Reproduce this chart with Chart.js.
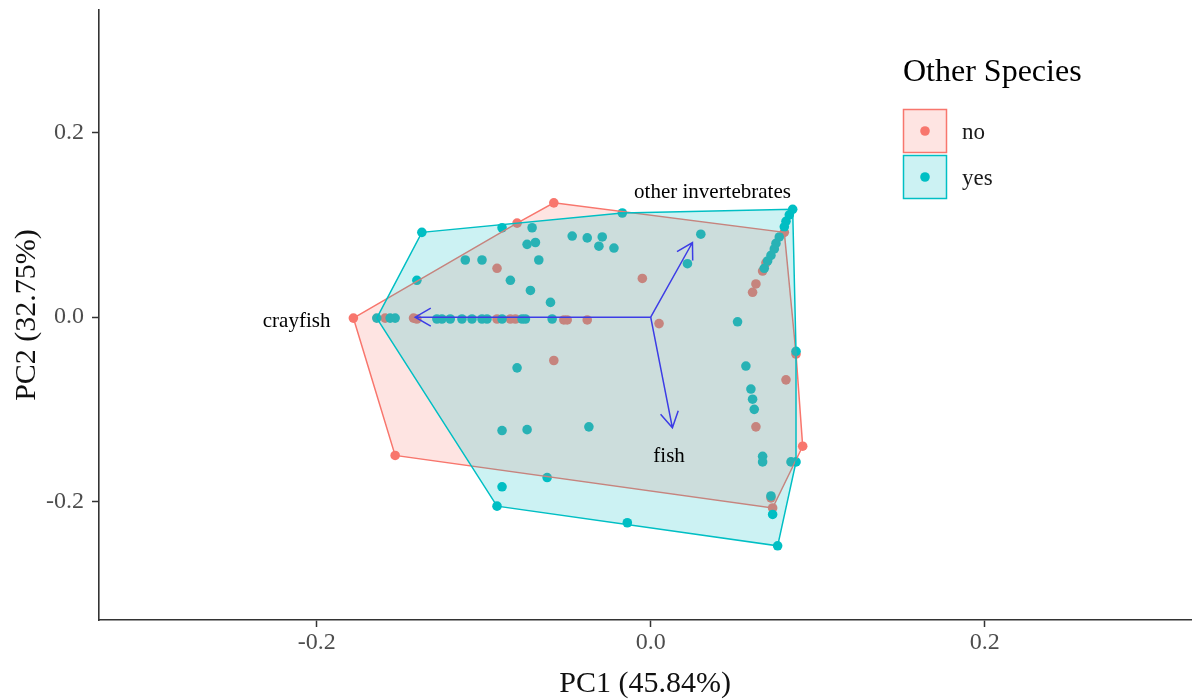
<!DOCTYPE html>
<html>
<head>
<meta charset="utf-8">
<script src="https://cdn.jsdelivr.net/npm/chart.js@4.4.1/dist/chart.umd.min.js"></script>
<style>
  html, body { margin: 0; padding: 0; background: #fff; }
</style>
</head>
<body>
<canvas id="pca" width="1196" height="700"></canvas>
<script>
// PCA scores, group "no"
const noX = [-0.178, -0.153, -0.058, -0.080, -0.092, -0.005, -0.159, -0.142, -0.140, -0.092, -0.084, -0.081, -0.052, -0.050,
             -0.038, 0.005, -0.058, 0.063, 0.081, 0.087, 0.091, 0.072, 0.073, 0.080, 0.069, 0.067, 0.063, 0.061];
const noY = [-0.001, -0.150, 0.124, 0.102, 0.053, 0.042, -0.001, -0.001, -0.002, -0.002, -0.002, -0.002, -0.003, -0.003,
             -0.003, -0.007, -0.047, -0.119, -0.068, -0.040, -0.140, -0.196, -0.207, 0.092, 0.059, 0.050, 0.036, 0.027];

// PCA scores, group "yes"
const yesX = [-0.164, -0.156, -0.153, -0.137, -0.140, -0.089, -0.071, -0.074, -0.069, -0.047, -0.038, -0.029, -0.031, -0.022,
              -0.111, -0.101, -0.067, -0.084, -0.072, -0.060, -0.017, 0.030, 0.022, 0.052, 0.057, 0.060, 0.061, 0.062,
              0.067, 0.067, 0.072, 0.073, 0.076, -0.014, -0.092, -0.089, -0.062, -0.080, -0.089, -0.074, -0.037, 0.084,
              0.087, -0.128, -0.125, -0.120, -0.113, -0.107, -0.101, -0.098, -0.089, -0.077, -0.075, -0.059, 0.085,
              0.083, 0.081, 0.080, 0.077, 0.075, 0.074, 0.072, 0.070, 0.068, 0.087];
const yesY = [-0.001, -0.001, -0.001, 0.092, 0.040, 0.097, 0.097, 0.079, 0.081, 0.088, 0.086, 0.087, 0.077, 0.075,
              0.062, 0.062, 0.062, 0.040, 0.029, 0.016, 0.113, 0.090, 0.058, -0.005, -0.053, -0.078, -0.089, -0.100,
              -0.151, -0.157, -0.194, -0.214, -0.248, -0.223, -0.205, -0.184, -0.174, -0.055, -0.123, -0.122, -0.119, -0.157,
              -0.157, -0.002, -0.002, -0.002, -0.002, -0.002, -0.002, -0.002, -0.002, -0.002, -0.002, -0.002, 0.117,
              0.111, 0.104, 0.098, 0.087, 0.080, 0.074, 0.067, 0.061, 0.053, -0.037];

// loadings (arrows) and where their labels sit
const loadNames = ['crayfish', 'other invertebrates', 'fish'];
const loadX = [-0.141, 0.025, 0.013];
const loadY = [0.000, 0.081, -0.120];
const labelX = [-0.212, 0.037, 0.011];
const labelY = [-0.005, 0.135, -0.151];

const xTicks = [-0.2, 0, 0.2];
const yTicks = [-0.2, 0, 0.2];
const groups = ['no', 'yes'];

const red = '#F8766D';
const teal = '#00BFC4';
const redFill = 'rgba(248,118,109,0.2)';
const tealFill = 'rgba(0,191,196,0.2)';
const serif = '"Liberation Serif", "Times New Roman", serif';

const toPts = (xs, ys) => xs.map((x, i) => ({x: x, y: ys[i]}));

// convex hull (monotone chain), closed
function hull(pts) {
  const p = pts.slice().sort((a, b) => a.x - b.x || a.y - b.y);
  const cross = (o, a, b) => (a.x - o.x) * (b.y - o.y) - (a.y - o.y) * (b.x - o.x);
  const lower = [], upper = [];
  for (const q of p) {
    while (lower.length >= 2 && cross(lower[lower.length - 2], lower[lower.length - 1], q) <= 0) lower.pop();
    lower.push(q);
  }
  for (const q of p.slice().reverse()) {
    while (upper.length >= 2 && cross(upper[upper.length - 2], upper[upper.length - 1], q) <= 0) upper.pop();
    upper.push(q);
  }
  upper.pop();
  lower.pop();
  const h = lower.concat(upper);
  h.push(h[0]);
  return h;
}

const noPts = toPts(noX, noY);
const yesPts = toPts(yesX, yesY);

// arrows + labels
const biplot = {
  id: 'biplot',
  afterDatasetsDraw(chart) {
    const {ctx, scales: {x, y}} = chart;
    const ox = x.getPixelForValue(0), oy = y.getPixelForValue(0);
    ctx.save();
    ctx.strokeStyle = '#3c3ce6';
    ctx.lineWidth = 1.5;
    loadNames.forEach((name, i) => {
      const tx = x.getPixelForValue(loadX[i]), ty = y.getPixelForValue(loadY[i]);
      const a = Math.atan2(ty - oy, tx - ox);
      const len = 18, spread = Math.PI / 6;
      ctx.beginPath();
      ctx.moveTo(ox, oy);
      ctx.lineTo(tx, ty);
      ctx.moveTo(tx - len * Math.cos(a - spread), ty - len * Math.sin(a - spread));
      ctx.lineTo(tx, ty);
      ctx.lineTo(tx - len * Math.cos(a + spread), ty - len * Math.sin(a + spread));
      ctx.stroke();
    });
    ctx.fillStyle = '#000';
    ctx.font = '21px ' + serif;
    ctx.textAlign = 'center';
    ctx.textBaseline = 'middle';
    loadNames.forEach((name, i) => {
      ctx.fillText(name, x.getPixelForValue(labelX[i]), y.getPixelForValue(labelY[i]));
    });
    ctx.restore();
  }
};

// legend on the right
const speciesLegend = {
  id: 'speciesLegend',
  afterDraw(chart) {
    const ctx = chart.ctx;
    const cols = [red, teal], fills = [redFill, tealFill];
    ctx.save();
    ctx.fillStyle = '#000';
    ctx.font = '32px ' + serif;
    ctx.textBaseline = 'middle';
    ctx.fillText('Other Species', 903, 73);
    groups.forEach((g, i) => {
      const top = 109 + i * 46;
      ctx.fillStyle = '#fff';
      ctx.fillRect(903, top, 44, 44);
      ctx.fillStyle = fills[i];
      ctx.fillRect(903, top, 44, 44);
      ctx.strokeStyle = cols[i];
      ctx.lineWidth = 1.5;
      ctx.strokeRect(903.5, top + 0.5, 43, 43);
      ctx.beginPath();
      ctx.arc(925, top + 22, 4.8, 0, Math.PI * 2);
      ctx.fillStyle = cols[i];
      ctx.fill();
      ctx.fillStyle = '#1a1a1a';
      ctx.font = '23px ' + serif;
      ctx.fillText(g, 962, top + 24);
    });
    ctx.restore();
  }
};

new Chart(document.getElementById('pca'), {
  type: 'scatter',
  data: {
    datasets: [
      {
        type: 'line', label: 'yes hull', data: hull(yesPts),
        borderColor: teal, backgroundColor: tealFill, borderWidth: 1.5,
        pointRadius: 0, fill: 'shape', tension: 0
      },
      {
        type: 'line', label: 'no hull', data: hull(noPts),
        borderColor: red, backgroundColor: redFill, borderWidth: 1.5,
        pointRadius: 0, fill: 'shape', tension: 0
      },
      {
        label: 'yes', data: yesPts,
        backgroundColor: teal, borderWidth: 0, pointRadius: 4.8
      },
      {
        label: 'no', data: noPts,
        backgroundColor: red, borderWidth: 0, pointRadius: 4.8
      }
    ]
  },
  options: {
    responsive: false,
    animation: false,
    devicePixelRatio: 1,
    layout: {padding: {top: 10, right: 0, left: 0, bottom: 0}},
    plugins: {
      legend: {display: false},
      tooltip: {enabled: false}
    },
    scales: {
      x: {
        type: 'linear',
        min: -0.3303,
        max: 0.3236,
        afterBuildTicks: s => { s.ticks = xTicks.map(v => ({value: v})); },
        afterFit: s => { s.height = 80; s.paddingLeft = 0; s.paddingRight = 0; },
        ticks: {
          callback: v => Number(v).toFixed(1),
          color: '#4d4d4d',
          font: {family: serif, size: 24},
          padding: 1
        },
        grid: {drawOnChartArea: false, drawTicks: true, tickLength: 7, tickColor: '#333', tickWidth: 1.5},
        border: {display: true, color: '#333', width: 1.6},
        title: {
          display: true, text: 'PC1 (45.84%)', color: '#111',
          font: {family: serif, size: 30, lineHeight: 1}, padding: {top: 0, bottom: 1}
        }
      },
      y: {
        type: 'linear',
        min: -0.3285,
        max: 0.3332,
        afterBuildTicks: s => { s.ticks = yTicks.map(v => ({value: v})); },
        afterFit: s => { s.width = 99; s.paddingTop = 0; s.paddingBottom = 0; },
        ticks: {
          callback: v => Number(v).toFixed(1),
          color: '#4d4d4d',
          font: {family: serif, size: 24},
          padding: 8
        },
        grid: {drawOnChartArea: false, drawTicks: true, tickLength: 7, tickColor: '#333', tickWidth: 1.5},
        border: {display: true, color: '#333', width: 1.6},
        title: {
          display: true, text: 'PC2 (32.75%)', color: '#111',
          font: {family: serif, size: 30, lineHeight: 1}, padding: {top: 12, bottom: 0}
        }
      }
    }
  },
  plugins: [biplot, speciesLegend]
});
</script>
</body>
</html>
